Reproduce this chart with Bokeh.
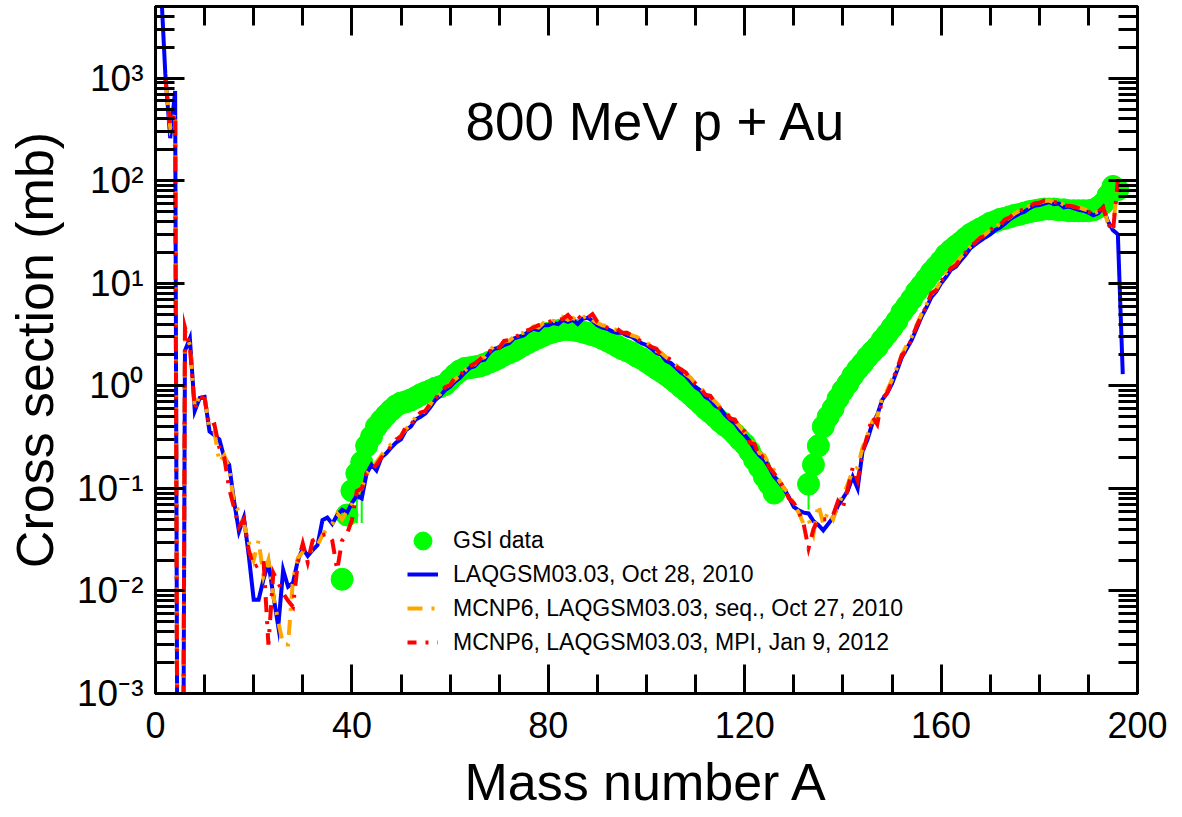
import math
from bokeh.plotting import figure
from bokeh.models import (Range1d, LinearAxis, LogAxis, FixedTicker, Label,
                          Legend, LegendItem, CustomJSTickFormatter)
from bokeh.embed import file_html
from bokeh.resources import INLINE

# ---------------- data ----------------
A_laq = list(range(1, 198))
laq = [
    1.0e4, 1.1e3, 2.6e2, 7.5e2, 1e-12, 2.2, 2.9, 0.57, 0.76, 0.78,
    0.36, 0.33, 0.30, 0.20, 0.17, 0.075, 0.038, 0.052, 0.022, 0.0082,
    0.0082, 0.013, 0.019, 0.009, 0.0045, 0.016, 0.011, 0.012, 0.02, 0.026,
    0.022, 0.025, 0.028, 0.049, 0.052, 0.045, 0.055, 0.062, 0.058, 0.072,
    0.085, 0.08, 0.14, 0.17, 0.15, 0.2, 0.22, 0.25, 0.28, 0.30,
    0.37, 0.40, 0.47, 0.50, 0.54, 0.62, 0.73, 0.80, 0.91, 0.98,
    1.1, 1.2, 1.35, 1.5, 1.55, 1.75, 1.8, 2.1, 2.3, 2.35,
    2.5, 2.6, 2.9, 3.0, 3.1, 3.4, 3.6, 3.5, 3.9, 3.9,
    4.1, 4.0, 4.4, 4.2, 4.4, 4.0, 4.5, 4.6, 4.3, 3.9,
    3.7, 3.6, 3.4, 3.3, 3.3, 3.1, 3.0, 2.8, 2.6, 2.5,
    2.3, 2.1, 2.0, 1.75, 1.66, 1.5, 1.35, 1.25, 1.1, 0.97,
    0.9, 0.78, 0.73, 0.64, 0.6, 0.52, 0.47, 0.43, 0.37, 0.33,
    0.29, 0.24, 0.21, 0.19, 0.16, 0.13, 0.115, 0.10, 0.082, 0.066,
    0.061, 0.058, 0.057, 0.048, 0.044, 0.039, 0.045, 0.052, 0.068, 0.08,
    0.095, 0.13, 0.1, 0.23, 0.3, 0.43, 0.52, 0.73, 0.85, 1.05,
    1.4, 1.9, 2.3, 2.8, 3.6, 4.7, 5.8, 7.3, 8.3, 10,
    11.5, 13.5, 14.5, 16.7, 19, 22, 24, 26, 28, 30,
    33, 35, 38, 42, 45, 48, 50, 54, 57, 58,
    60, 62, 59, 60, 55, 56, 54, 52, 51, 49,
    46, 48, 55, 40, 33, 30, 1.3,
]

A_seq = list(range(2, 197))
seq = [
    1.0e3, 3.3e2, 4.6e2, 1e-12, 3.5, 2.5, 0.62, 0.8, 0.78,
    0.37, 0.36, 0.18, 0.21, 0.16, 0.07, 0.06, 0.045, 0.03, 0.02,
    0.031, 0.014, 0.02, 0.009, 0.005, 0.003, 0.003, 0.013, 0.021, 0.024,
    0.022, 0.026, 0.028, 0.035, 0.041, 0.045, 0.057, 0.05, 0.06, 0.07,
    0.09, 0.1, 0.14, 0.16, 0.18, 0.21, 0.24, 0.27, 0.29, 0.33,
    0.38, 0.42, 0.5, 0.52, 0.58, 0.66, 0.78, 0.83, 0.95, 1.05,
    1.15, 1.28, 1.4, 1.6, 1.62, 1.85, 1.9, 2.2, 2.45, 2.4,
    2.7, 2.75, 3.0, 3.2, 3.3, 3.5, 3.8, 3.7, 4.1, 4.0,
    4.3, 4.2, 4.7, 4.4, 4.6, 4.3, 4.6, 4.9, 4.4, 4.1,
    3.9, 3.8, 3.6, 3.5, 3.4, 3.3, 3.1, 3.0, 2.8, 2.6,
    2.5, 2.2, 2.1, 1.9, 1.75, 1.6, 1.45, 1.3, 1.2, 1.05,
    0.95, 0.85, 0.77, 0.7, 0.62, 0.56, 0.5, 0.45, 0.4, 0.35,
    0.3, 0.27, 0.22, 0.21, 0.17, 0.15, 0.12, 0.1, 0.09, 0.07,
    0.058, 0.045, 0.05, 0.036, 0.07, 0.045, 0.06, 0.05, 0.07, 0.085,
    0.11, 0.15, 0.16, 0.25, 0.33, 0.45, 0.5, 0.78, 0.9, 1.15,
    1.5, 2.0, 2.5, 3.0, 3.9, 5.0, 6.2, 7.8, 8.8, 10.5,
    12.5, 14.5, 15.5, 18, 20, 23, 25.5, 28, 30, 33,
    35, 38, 41, 44, 48, 51, 52, 57, 59, 61,
    63, 64, 61, 62, 58, 58, 56, 55, 53, 51,
    48, 50, 56, 38, 34, 105,
]

A_mpi = list(range(2, 197))
mpi = [
    1.0e3, 3.5e2, 4.5e2, 1e-12, 3.7, 2.4, 0.6, 0.78, 0.75,
    0.4, 0.42, 0.25, 0.2, 0.1, 0.065, 0.042, 0.05, 0.025, 0.017,
    0.018, 0.02, 0.003, 0.015, 0.012, 0.0095, 0.008, 0.007, 0.019, 0.029,
    0.019, 0.031, 0.033, 0.035, 0.036, 0.031, 0.016, 0.031, 0.036, 0.049,
    0.094, 0.1, 0.14, 0.15, 0.17, 0.2, 0.22, 0.26, 0.3, 0.32,
    0.4, 0.41, 0.5, 0.55, 0.57, 0.68, 0.75, 0.85, 0.97, 1.02,
    1.2, 1.25, 1.45, 1.55, 1.65, 1.8, 2.0, 2.15, 2.5, 2.35,
    2.75, 2.8, 3.0, 3.1, 3.4, 3.5, 3.7, 3.9, 4.0, 4.2,
    4.3, 4.4, 4.5, 4.9, 4.3, 4.8, 4.4, 4.6, 5.0, 4.2,
    3.9, 3.7, 3.6, 3.6, 3.3, 3.3, 3.1, 2.9, 2.7, 2.6,
    2.4, 2.3, 2.0, 1.9, 1.8, 1.55, 1.45, 1.35, 1.15, 1.05,
    0.95, 0.82, 0.8, 0.68, 0.6, 0.58, 0.48, 0.47, 0.38, 0.36,
    0.28, 0.27, 0.2, 0.21, 0.16, 0.14, 0.12, 0.1, 0.08, 0.072,
    0.06, 0.045, 0.026, 0.04, 0.05, 0.05, 0.05, 0.055, 0.075, 0.065,
    0.1, 0.16, 0.12, 0.22, 0.33, 0.5, 0.42, 0.75, 0.85, 1.1,
    1.45, 2.0, 2.2, 2.9, 3.8, 4.8, 6.0, 8.0, 8.5, 10.5,
    12, 14, 15, 17.5, 20, 23, 25, 28, 29, 33,
    36, 37, 42, 44, 48, 51, 53, 56, 60, 61,
    64, 63, 62, 61, 57, 57, 56, 54, 52, 50,
    47, 50, 55, 38, 32, 100,
]

A_gsi = list(range(38, 127)) + list(range(133, 197))
gsi = [
    0.013, 0.055, 0.095, 0.14, 0.18, 0.26, 0.32, 0.4, 0.46, 0.52,
    0.58, 0.64, 0.68, 0.7, 0.73, 0.77, 0.82, 0.86, 0.9, 0.95,
    0.98, 1.03, 1.15, 1.28, 1.4, 1.48, 1.5, 1.53, 1.56, 1.62,
    1.7, 1.78, 1.88, 2.0, 2.1, 2.2, 2.35, 2.5, 2.65, 2.8,
    2.95, 3.1, 3.25, 3.35, 3.45, 3.55, 3.55, 3.5, 3.45, 3.35,
    3.25, 3.15, 3.05, 2.9, 2.75, 2.6, 2.45, 2.3, 2.2, 2.1,
    1.95, 1.85, 1.72, 1.6, 1.48, 1.38, 1.28, 1.18, 1.08, 0.98,
    0.9, 0.82, 0.74, 0.67, 0.6, 0.55, 0.5, 0.45, 0.41, 0.38,
    0.34, 0.3, 0.27, 0.23, 0.19, 0.16, 0.13, 0.11, 0.09,
    0.11, 0.17, 0.26, 0.4, 0.5, 0.6, 0.75, 0.9, 1.05, 1.25,
    1.45, 1.65, 1.9, 2.15, 2.4, 2.8, 3.2, 3.7, 4.3, 5.2,
    6.0, 7.0, 8.3, 9.5, 11, 12.8, 14.5, 16.5, 19, 21,
    23, 25, 27.5, 30, 32, 34, 36, 38.5, 40, 42,
    43, 44.5, 46, 47, 48.5, 50, 51, 52, 53, 53,
    53, 52, 52, 51, 51, 51, 51, 51, 52, 55,
    60, 72, 88, 82,
]

err_A = [38, 41, 42, 133]
err_lo = [0.011, 0.046, 0.046, 0.062]
err_hi = [0.015, 0.16, 0.2, 0.13]

x_major = [0, 40, 80, 120, 160, 200]
x_minor = list(range(0, 201, 10))
y_exps = [-3, -2, -1, 0, 1, 2, 3]
y_minor = [k * 10.0 ** e for e in range(-3, 4) for k in range(2, 10)]

FONT = "Liberation Sans"

# ---------------- figure ----------------
p = figure(width=1182, height=817, x_range=Range1d(0, 200),
           y_range=Range1d(1e-3, 5000), y_axis_type="log",
           x_axis_location=None, y_axis_location=None,
           output_backend="svg", toolbar_location=None,
           min_border_left=155, min_border_right=45,
           min_border_top=6, min_border_bottom=124)
p.xgrid.visible = False
p.ygrid.visible = False
p.outline_line_color = "black"
p.outline_line_width = 3
p.background_fill_color = "white"
p.border_fill_color = "white"

xt = FixedTicker(ticks=x_major, minor_ticks=x_minor)
yt = FixedTicker(ticks=[10.0 ** e for e in y_exps], minor_ticks=y_minor)

sup_fmt = CustomJSTickFormatter(code="""
const sup = {'-': '\u207b', '0': '\u2070', '1': '\u00b9', '2': '\u00b2',
             '3': '\u00b3', '4': '\u2074', '5': '\u2075', '6': '\u2076',
             '7': '\u2077', '8': '\u2078', '9': '\u2079'};
const e = Math.round(Math.log10(tick));
return '10' + String(e).split('').map(c => sup[c]).join('');
""")

bottom_ax = LinearAxis(ticker=xt, axis_label="Mass number A")
top_ax = LinearAxis(ticker=xt)
left_ax = LogAxis(ticker=yt, formatter=sup_fmt, axis_label="Cross section (mb)")
right_ax = LogAxis(ticker=yt)
p.add_layout(bottom_ax, "below")
p.add_layout(top_ax, "above")
p.add_layout(left_ax, "left")
p.add_layout(right_ax, "right")

for ax in [bottom_ax, top_ax, left_ax, right_ax]:
    ax.axis_line_width = 3
    ax.axis_line_color = "black"
    ax.major_tick_in = 29
    ax.major_tick_out = 0
    ax.minor_tick_in = 19
    ax.minor_tick_out = 0
    ax.major_tick_line_width = 3
    ax.minor_tick_line_width = 3
    ax.major_tick_line_color = "black"
    ax.minor_tick_line_color = "black"

for ax in [top_ax, right_ax]:
    ax.major_label_text_font_size = "1px"
    ax.major_label_text_alpha = 0
    ax.major_label_standoff = 0

bottom_ax.major_label_text_font = FONT
bottom_ax.major_label_text_font_size = "36px"
bottom_ax.major_label_text_color = "black"
bottom_ax.major_label_standoff = 18
bottom_ax.axis_label_text_font = FONT
bottom_ax.axis_label_text_font_size = "52px"
bottom_ax.axis_label_text_font_style = "normal"
bottom_ax.axis_label_text_color = "black"
bottom_ax.axis_label_standoff = 12

left_ax.major_label_text_font = FONT
left_ax.major_label_text_font_size = "37px"
left_ax.major_label_text_color = "black"
left_ax.major_label_standoff = 12
left_ax.axis_label_text_font = FONT
left_ax.axis_label_text_font_size = "52px"
left_ax.axis_label_text_font_style = "normal"
left_ax.axis_label_text_color = "black"
left_ax.axis_label_standoff = 10

# ---------------- glyphs ----------------
p.segment(x0=err_A, y0=err_lo, x1=err_A, y1=err_hi, line_color="#00ff00",
          line_width=2)
g_r = p.scatter(A_gsi, gsi, marker="circle", size=22, fill_color="#00ff00",
                line_color="#00ff00")
b_r = p.line(A_laq, laq, line_color="#0000ff", line_width=4,
             line_join="miter")
o_r = p.line(A_seq, seq, line_color="#ffa500", line_width=4,
             line_join="miter", line_dash="15 9 3 9")
r_r = p.line(A_mpi, mpi, line_color="#ff0000", line_width=4,
             line_join="miter", line_dash="15 9 3 9", line_dash_offset=6)

# ---------------- legends ----------------
common = dict(padding=0, margin=0, spacing=0, border_line_color=None,
              background_fill_alpha=0, label_text_font=FONT,
              label_text_font_size="23px", label_text_color="black")
legend_pts = Legend(items=[LegendItem(label="GSI data", renderers=[g_r])],
                    location=(245, 130), glyph_width=45, glyph_height=45,
                    label_height=45, label_standoff=8, **common)
legend_lines = Legend(items=[
    LegendItem(label="LAQGSM03.03, Oct 28, 2010", renderers=[b_r]),
    LegendItem(label="MCNP6, LAQGSM03.03, seq., Oct 27, 2010", renderers=[o_r]),
    LegendItem(label="MCNP6, LAQGSM03.03, MPI, Jan 9, 2012", renderers=[r_r]),
], location=(252, 34), glyph_width=31, glyph_height=34, label_height=34,
    label_standoff=15, **common)
p.add_layout(legend_pts)
p.add_layout(legend_lines)

# ---------------- in-plot title ----------------
p.add_layout(Label(x=102, y=380, text="800 MeV p + Au", text_align="center",
                   text_baseline="alphabetic", text_font=FONT,
                   text_font_size="53px", text_color="black"))

open("out.html", "w").write(file_html(p, INLINE))
